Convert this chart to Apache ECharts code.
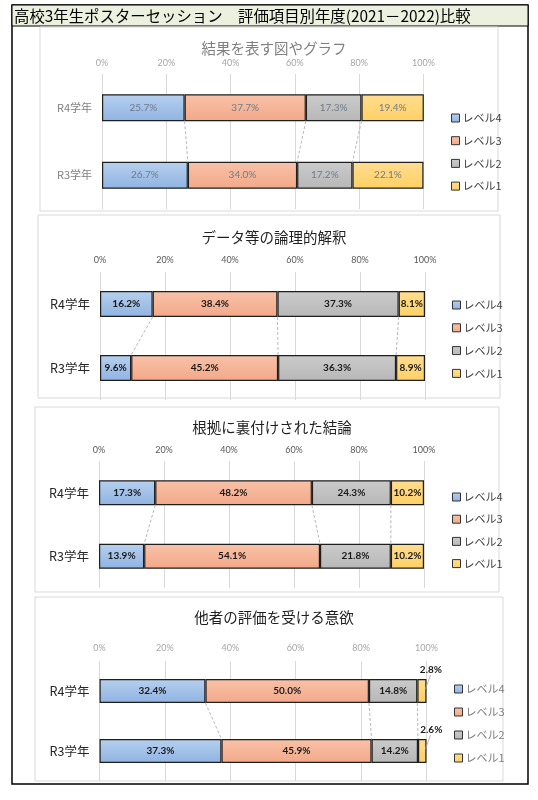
<!DOCTYPE html>
<html>
<head>
<meta charset="utf-8">
<script src="https://cdn.jsdelivr.net/npm/echarts@6/dist/echarts.min.js"></script>
<style>
  html, body { margin: 0; padding: 0; background: #fff; }
  #main { width: 538px; height: 800px; }
</style>
</head>
<body>
<div id="main"></div>
<script>
var mainTitle = '高校3年生ポスターセッション　評価項目別年度(2021－2022)比較';
var panelTitles = ['結果を表す図やグラフ', 'データ等の論理的解釈', '根拠に裏付けされた結論', '他者の評価を受ける意欲'];
var categories = ['R4学年', 'R3学年'];
var levels = ['レベル4', 'レベル3', 'レベル2', 'レベル1'];
var xTicks = [0, 20, 40, 60, 80, 100];

// [R4, R3] per panel
var lv4 = [[25.7, 26.7], [16.2, 9.6], [17.3, 13.9], [32.4, 37.3]];
var lv3 = [[37.7, 34.0], [38.4, 45.2], [48.2, 54.1], [50.0, 45.9]];
var lv2 = [[17.3, 17.2], [37.3, 36.3], [24.3, 21.8], [14.8, 14.2]];
var lv1 = [[19.4, 22.1], [8.1, 8.9], [10.2, 10.2], [2.8, 2.6]];
var levelData = [lv4, lv3, lv2, lv1];

var jp = '"Noto Sans CJK JP", sans-serif';
var num = 'Lato, "Liberation Sans", sans-serif';

function grad(c1, c2) {
    return { type: 'linear', x: 0, y: 0, x2: 0, y2: 1,
        colorStops: [{ offset: 0, color: c1 }, { offset: 1, color: c2 }] };
}
var fills = [
    grad('#b6d0ee', '#90b3e2'),
    grad('#f8c2a8', '#f3a888'),
    grad('#cbcbcb', '#b7b7b7'),
    grad('#ffdd90', '#ffd064')
];

// layout of the four panels
var panels = [
    { box: [40, 27, 458, 184], titleY: 36, grid: [102, 74, 321.5, 135], barW: 27, tickMargin: 6, legend: [446, 106, 8.7],
      titleColor: '#7f7f7f', catColor: '#7f7f7f', catSize: 11, tickColor: '#a6a6a6', labColor: '#6f7b8c', labWeight: 'normal', legColor: '#404040' },
    { box: [38, 215, 462, 183], titleY: 225, grid: [100, 272, 325, 128], barW: 26, tickMargin: 7, legend: [447, 293, 8.8],
      titleColor: '#1f1f1f', catColor: '#262626', catSize: 12.5, tickColor: '#595959', labColor: '#1a1a1a', labWeight: 'bold', legColor: '#404040' },
    { box: [35, 407, 464, 185], titleY: 415, grid: [99, 461, 325, 127], barW: 25, tickMargin: 6, legend: [447, 485, 8.2],
      titleColor: '#1f1f1f', catColor: '#262626', catSize: 12.5, tickColor: '#595959', labColor: '#1a1a1a', labWeight: 'bold', legColor: '#404040' },
    { box: [35, 597, 468, 184], titleY: 605, grid: [99.5, 661, 327, 120], barW: 24, tickMargin: 8, legend: [449, 677, 9],
      titleColor: '#1f1f1f', catColor: '#262626', catSize: 12.5, tickColor: '#a6a6a6', labColor: '#1a1a1a', labWeight: 'bold', legColor: '#808080' }
];

var grids = [], xAxes = [], yAxes = [], titles = [], legends = [], series = [];
var graphics = [
    { type: 'rect', shape: { x: 12, y: 5, width: 516, height: 779 }, style: { fill: 'none', stroke: '#000', lineWidth: 1.5 } },
    { type: 'rect', shape: { x: 12, y: 5, width: 516, height: 21 }, style: { fill: '#ebf1de', stroke: '#000', lineWidth: 1 } },
    { type: 'text', x: 14, y: 16, style: { text: mainTitle, font: '15.4px ' + jp, fill: '#000', textVerticalAlign: 'middle' } }
];

panels.forEach(function (pl, p) {
    graphics.push({ type: 'rect', shape: { x: pl.box[0], y: pl.box[1], width: pl.box[2], height: pl.box[3] },
        style: { fill: 'none', stroke: '#d9d9d9', lineWidth: 1 } });
    titles.push({ text: panelTitles[p], left: pl.box[0] + pl.box[2] / 2, top: pl.titleY, textAlign: 'center',
        textStyle: { fontFamily: jp, fontSize: 14.5, fontWeight: 'normal', color: pl.titleColor } });
    grids.push({ left: pl.grid[0], top: pl.grid[1], width: pl.grid[2], height: pl.grid[3] });
    xAxes.push({
        type: 'value', gridIndex: p, position: 'top', min: xTicks[0], max: xTicks[xTicks.length - 1], interval: 20,
        axisLine: { show: false }, axisTick: { show: false },
        axisLabel: { formatter: '{value}%', fontSize: 9, color: pl.tickColor, fontFamily: num, margin: pl.tickMargin },
        splitLine: { show: true, lineStyle: { color: '#d9d9d9', width: 1 } }
    });
    yAxes.push({
        type: 'category', gridIndex: p, data: categories, inverse: true,
        axisLine: { show: false }, axisTick: { show: false },
        axisLabel: { fontSize: pl.catSize, color: pl.catColor, fontFamily: jp, margin: 10 }
    });
    legends.push({
        orient: 'vertical', left: pl.legend[0], top: pl.legend[1], itemGap: pl.legend[2],
        itemWidth: 8, itemHeight: 8, icon: 'rect', selectedMode: false, data: levels,
        itemStyle: { borderColor: '#333', borderWidth: 1 },
        textStyle: { fontFamily: jp, fontSize: 11, color: pl.legColor, lineHeight: 14, padding: [0, 0, 0, -2] }
    });

    levelData.forEach(function (vals, l) {
        var outside = p === 3 && l === 3;
        series.push({
            type: 'bar', name: levels[l], xAxisIndex: p, yAxisIndex: p, stack: 'st' + p,
            barWidth: pl.barW, data: vals[p],
            itemStyle: { color: fills[l], borderColor: '#1f1f1f', borderWidth: 1.2 },
            label: {
                show: true, position: outside ? 'top' : 'inside', distance: outside ? 3 : 5,
                offset: outside ? [9, -1] : [0, 0],
                formatter: function (d) { return d.value.toFixed(1) + '%'; },
                fontFamily: num, fontSize: 10, fontWeight: pl.labWeight, color: pl.labColor
            }
        });
    });

    // dashed series lines joining the segment boundaries
    var links = [];
    var c4 = 0, c3 = 0;
    for (var k = 0; k < 3; k++) {
        c4 += levelData[k][p][0];
        c3 += levelData[k][p][1];
        links.push([c4, 0, c3, 1]);
    }
    series.push({
        type: 'custom', xAxisIndex: p, yAxisIndex: p, silent: true, z: 3,
        encode: { x: [0, 2], y: [1, 3] }, data: links,
        renderItem: function (params, api) {
            var a = api.coord([api.value(0), api.value(1)]);
            var b = api.coord([api.value(2), api.value(3)]);
            var h = pl.barW / 2;
            return { type: 'line', shape: { x1: a[0], y1: a[1] + h, x2: b[0], y2: b[1] - h },
                style: { stroke: '#a6a6a6', lineWidth: 0.8, lineDash: [3, 2] } };
        }
    });

    // leader lines for the small outside labels of the last panel
    if (p === 3) {
        var ends = categories.map(function (c, i) {
            return [levelData.reduce(function (s, v) { return s + v[p][i]; }, 0), i];
        });
        series.push({
            type: 'custom', xAxisIndex: p, yAxisIndex: p, silent: true, z: 3,
            encode: { x: 0, y: 1 }, data: ends,
            renderItem: function (params, api) {
                var a = api.coord([api.value(0), api.value(1)]);
                var h = pl.barW / 2;
                return { type: 'line', shape: { x1: a[0] - 1, y1: a[1] - 2, x2: a[0] + 4, y2: a[1] - h - 4 },
                    style: { stroke: '#a6a6a6', lineWidth: 0.8 } };
            }
        });
    }
});

var chart = echarts.init(document.getElementById('main'), null, { renderer: 'canvas' });
chart.setOption({
    animation: false,
    title: titles,
    legend: legends,
    grid: grids,
    xAxis: xAxes,
    yAxis: yAxes,
    graphic: graphics,
    series: series
});
</script>
</body>
</html>
